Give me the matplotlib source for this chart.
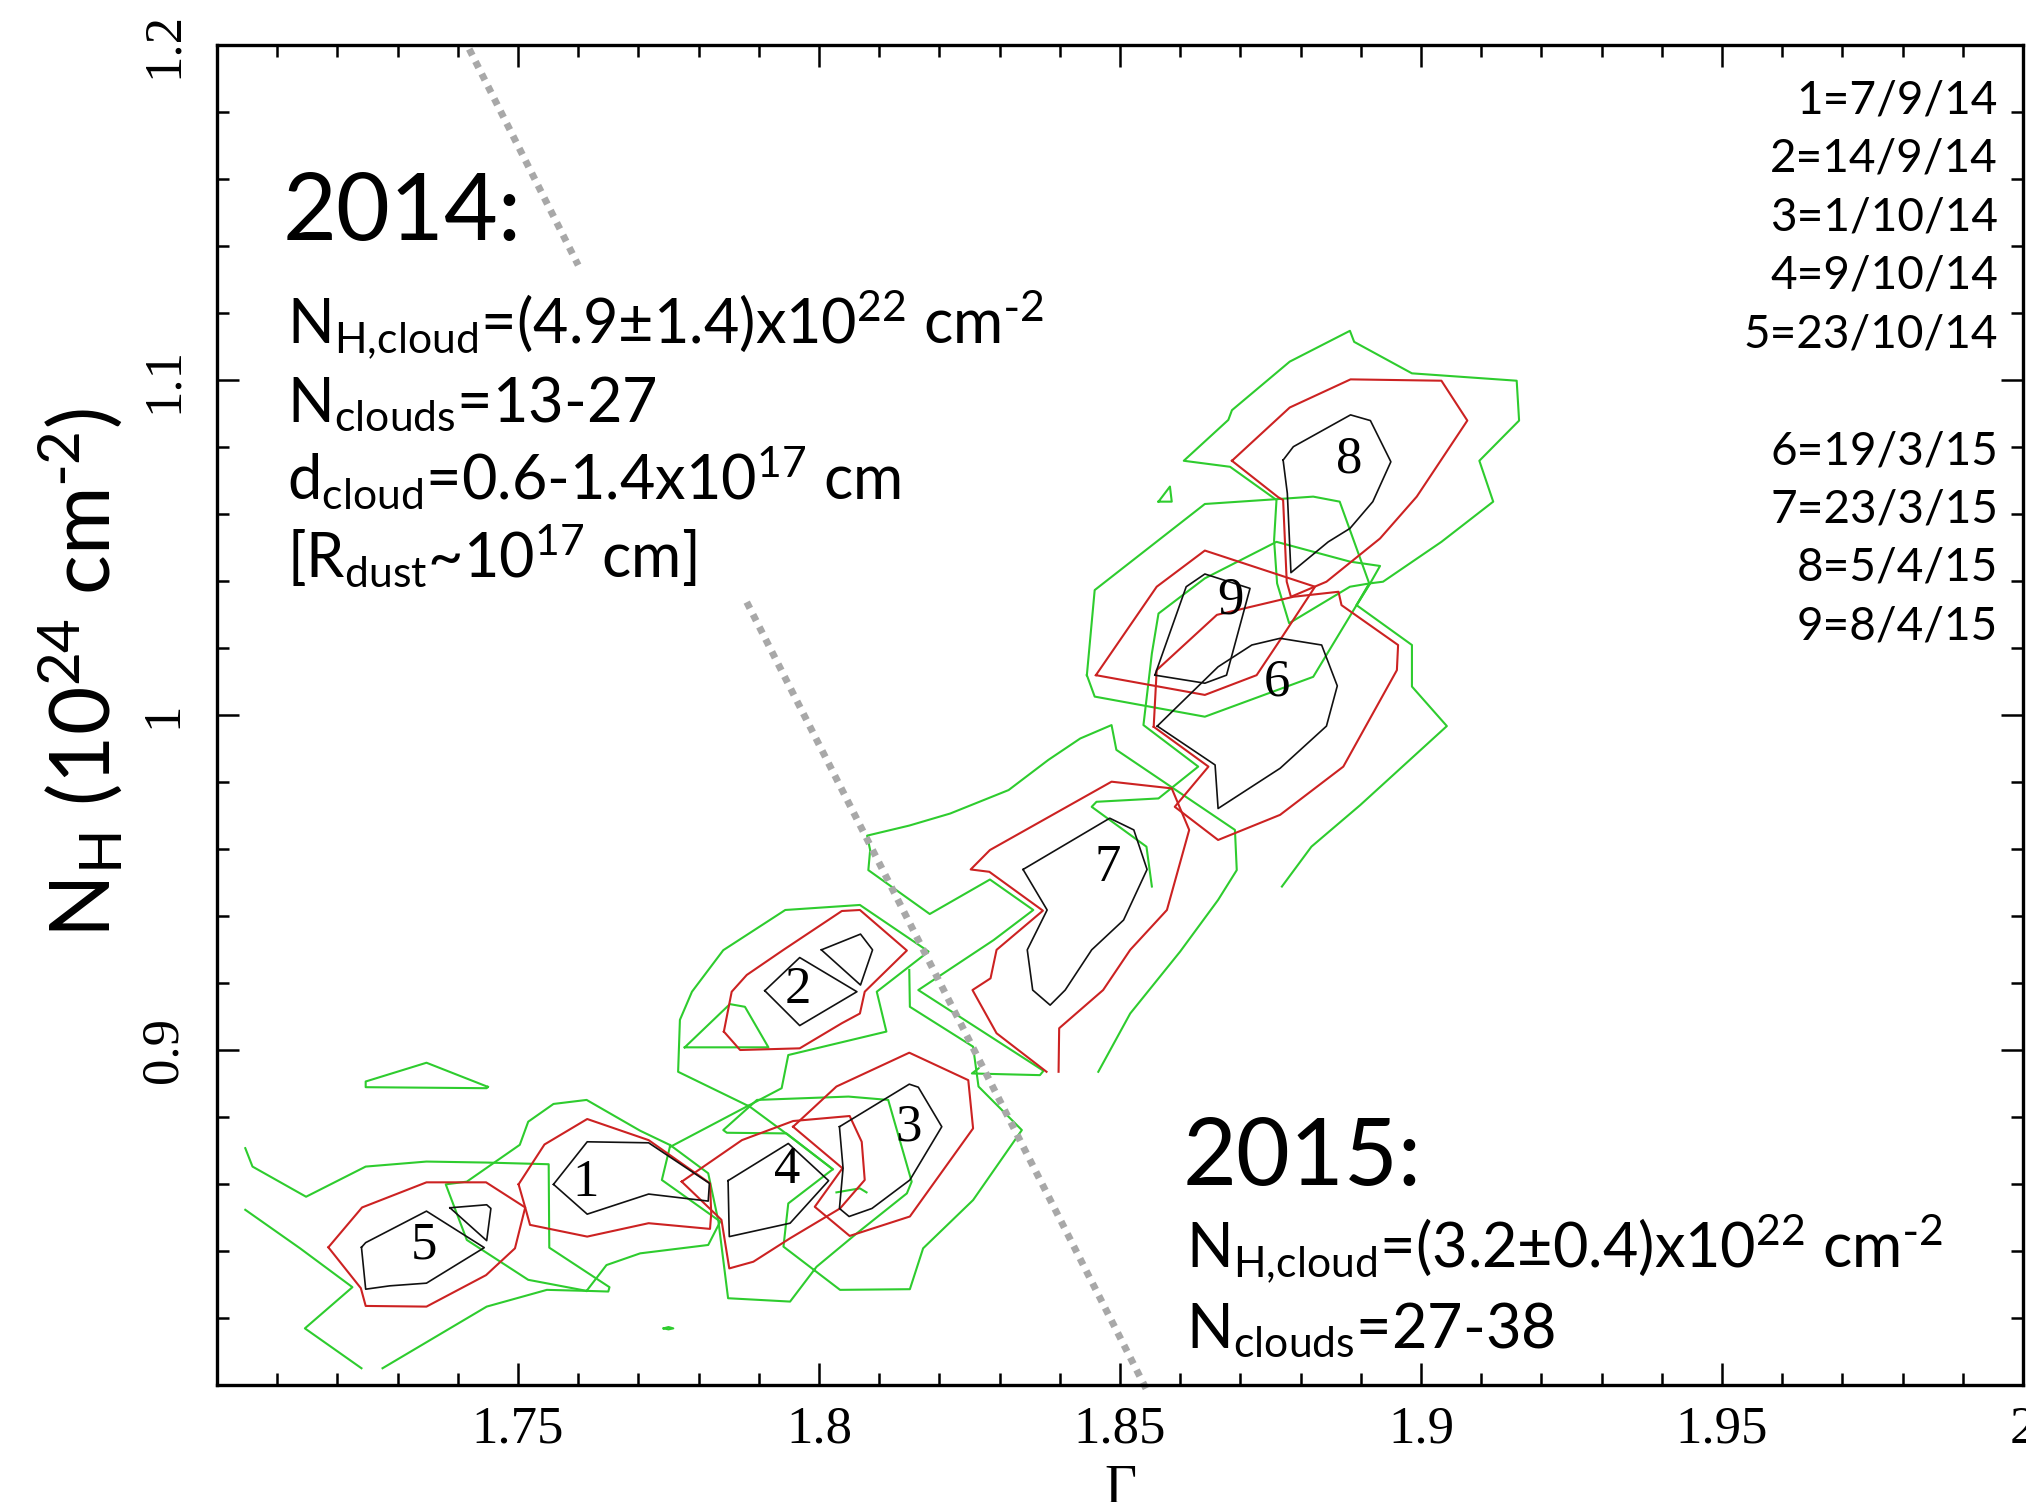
"""Gamma vs N_H confidence contours for the 2014 / 2015 observations."""

import matplotlib

matplotlib.use("Agg")
from matplotlib import pyplot as plt
from matplotlib.ticker import MultipleLocator

SANS = "Lato"
SERIF = "Liberation Serif"
GREEN = "#2ecc2e"
RED = "#cc2222"
BLACK = "#111111"
GREY = "#a8a8a8"

# ---- contour data (Gamma, N_H) ----
C5_BLACK = [(1.7240, 0.8411), (1.7247, 0.8286), (1.7287, 0.8296), (1.7348, 0.8304), (1.7444, 0.8410),
            (1.7348, 0.8519), (1.7247, 0.8425), (1.7240, 0.8411)]
C5_BLACK_B = [(1.7387, 0.8529), (1.7448, 0.8538), (1.7455, 0.8527), (1.7448, 0.8431), (1.7387, 0.8529)]
C5_RED = [(1.7185, 0.8411), (1.7241, 0.8530), (1.7348, 0.8605), (1.7447, 0.8605), (1.7512, 0.8530),
          (1.7495, 0.8408), (1.7447, 0.8328), (1.7348, 0.8234), (1.7247, 0.8236), (1.7239, 0.8289),
          (1.7185, 0.8411)]
C5_GREEN_A = [(1.7047, 0.8523), (1.7138, 0.8408), (1.7225, 0.8292), (1.7146, 0.8169), (1.7240, 0.8050)]
C5_GREEN_B = [(1.7275, 0.8050), (1.7448, 0.8234), (1.7548, 0.8284), (1.7614, 0.8281), (1.7650, 0.8279),
              (1.7652, 0.8292), (1.7552, 0.8410), (1.7551, 0.8659), (1.7448, 0.8664), (1.7348, 0.8667),
              (1.7247, 0.8652), (1.7148, 0.8562), (1.7059, 0.8652), (1.7047, 0.8707)]
C5_GREEN_C = [(1.7450, 0.8890), (1.7348, 0.8962), (1.7247, 0.8906), (1.7247, 0.8889), (1.7448, 0.8886),
              (1.7450, 0.8890)]
C5_GREEN_D = [(1.7742, 0.8169), (1.7750, 0.8173), (1.7758, 0.8169), (1.7750, 0.8166), (1.7742, 0.8169)]

C1_BLACK = [(1.7559, 0.8599), (1.7615, 0.8726), (1.7717, 0.8723), (1.7818, 0.8602), (1.7816, 0.8549),
            (1.7717, 0.8570), (1.7615, 0.8510), (1.7559, 0.8599)]
C1_RED = [(1.7501, 0.8599), (1.7544, 0.8718), (1.7615, 0.8794), (1.7717, 0.8731), (1.7819, 0.8602),
          (1.7821, 0.8512), (1.7819, 0.8466), (1.7717, 0.8483), (1.7615, 0.8443), (1.7520, 0.8478),
          (1.7512, 0.8530), (1.7501, 0.8599)]
C1_GREEN = [(1.7614, 0.8281), (1.7517, 0.8314), (1.7415, 0.8433), (1.7380, 0.8599), (1.7415, 0.8607),
            (1.7503, 0.8717), (1.7517, 0.8786), (1.7559, 0.8839), (1.7614, 0.8851), (1.7703, 0.8759),
            (1.7753, 0.8716), (1.7739, 0.8612), (1.7836, 0.8488), (1.7816, 0.8418), (1.7703, 0.8393),
            (1.7647, 0.8358), (1.7614, 0.8281)]

C4_BLACK = [(1.7849, 0.8610), (1.7949, 0.8721), (1.8016, 0.8610), (1.7952, 0.8483), (1.7851, 0.8443),
            (1.7849, 0.8610)]
C4_RED = [(1.7772, 0.8607), (1.7872, 0.8731), (1.7957, 0.8788), (1.8051, 0.8803), (1.8071, 0.8726),
          (1.8076, 0.8612), (1.8035, 0.8527), (1.7952, 0.8438), (1.7891, 0.8368), (1.7851, 0.8348),
          (1.7838, 0.8493), (1.7772, 0.8607)]
C4_GREEN = [(1.7753, 0.8716), (1.7816, 0.8632), (1.7833, 0.8488), (1.7849, 0.8259), (1.7952, 0.8249),
            (1.7996, 0.8353), (1.8063, 0.8453), (1.8146, 0.8572), (1.8154, 0.8607), (1.8115, 0.8851),
            (1.8049, 0.8861), (1.7897, 0.8851), (1.7841, 0.8761), (1.7847, 0.8753), (1.7946, 0.8751),
            (1.8023, 0.8644), (1.7949, 0.8542), (1.7941, 0.8413), (1.8035, 0.8284), (1.8151, 0.8286),
            (1.8173, 0.8408), (1.8256, 0.8552), (1.8337, 0.8761), (1.8265, 0.8891), (1.8256, 0.9010),
            (1.8151, 0.9129), (1.8150, 0.9239)]

C3_BLACK = [(1.8034, 0.8771), (1.8150, 0.8898), (1.8165, 0.8889), (1.8204, 0.8771), (1.8151, 0.8612),
            (1.8088, 0.8527), (1.8050, 0.8503), (1.8034, 0.8527), (1.8040, 0.8647), (1.8034, 0.8771)]
C3_RED = [(1.7957, 0.8771), (1.8029, 0.8891), (1.8150, 0.8992), (1.8248, 0.8910), (1.8256, 0.8766),
          (1.8151, 0.8503), (1.8051, 0.8445), (1.7993, 0.8532), (1.8039, 0.8647), (1.7957, 0.8771)]
C3_GREEN = [(1.8265, 0.8945), (1.8254, 0.8930), (1.8367, 0.8925), (1.8373, 0.8938), (1.8165, 0.9179),
            (1.8290, 0.9328), (1.8356, 0.9418), (1.8284, 0.9509), (1.8184, 0.9406), (1.8082, 0.9537),
            (1.8085, 0.9597), (1.8080, 0.9640), (1.8150, 0.9670), (1.8218, 0.9706), (1.8315, 0.9776),
            (1.8381, 0.9866), (1.8434, 0.9930), (1.8486, 0.9970), (1.8494, 0.9896), (1.8691, 0.9657),
            (1.8694, 0.9537), (1.8663, 0.9448), (1.8600, 0.9294), (1.8517, 0.9109), (1.8464, 0.8935)]
C3_GREEN_B = [(1.8029, 0.8575), (1.8068, 0.8587), (1.8079, 0.8575)]

C2_BLACK = [(1.7910, 0.9177), (1.7968, 0.9276), (1.8063, 0.9174), (1.7968, 0.9073), (1.7910, 0.9177)]
C2_BLACK_B = [(1.8004, 0.9299), (1.8069, 0.9346), (1.8089, 0.9299), (1.8069, 0.9194), (1.8004, 0.9299)]
C2_RED = [(1.7842, 0.9055), (1.7855, 0.9174), (1.7880, 0.9224), (1.7941, 0.9299), (1.8038, 0.9415),
          (1.8068, 0.9418), (1.8146, 0.9297), (1.8076, 0.9174), (1.8068, 0.9109), (1.8038, 0.9080),
          (1.7968, 0.9005), (1.7869, 0.9000), (1.7842, 0.9055)]
C2_GREEN = [(1.8023, 0.8644), (1.7949, 0.8746), (1.7885, 0.8831), (1.7766, 0.8935), (1.7769, 0.9090),
            (1.7789, 0.9174), (1.7841, 0.9298), (1.7944, 0.9418), (1.8068, 0.9433), (1.8182, 0.9294),
            (1.8096, 0.9174), (1.8112, 0.9055), (1.7949, 0.8985), (1.7938, 0.8886), (1.7885, 0.8836),
            (1.7753, 0.8711)]
C2_GREEN_B = [(1.7777, 0.9008), (1.7852, 0.9137), (1.7877, 0.9129), (1.7916, 0.9008), (1.7777, 0.9008)]

C7_BLACK = [(1.8339, 0.9539), (1.8483, 0.9692), (1.8523, 0.9657), (1.8545, 0.9539), (1.8506, 0.9388),
            (1.8453, 0.9299), (1.8409, 0.9179), (1.8384, 0.9134), (1.8355, 0.9179), (1.8346, 0.9299),
            (1.8379, 0.9418), (1.8339, 0.9539)]
C7_RED = [(1.8398, 0.8935), (1.8399, 0.9065), (1.8472, 0.9179), (1.8517, 0.9299), (1.8578, 0.9418),
          (1.8615, 0.9657), (1.8586, 0.9781), (1.8486, 0.9801), (1.8284, 0.9597), (1.8252, 0.9539),
          (1.8283, 0.9532), (1.8372, 0.9416), (1.8295, 0.9299), (1.8285, 0.9214), (1.8255, 0.9179),
          (1.8295, 0.9050), (1.8378, 0.8935)]
C7_GREEN = [(1.8893, 1.0328), (1.8914, 1.0388), (1.8932, 1.0445), (1.8882, 1.0458), (1.8760, 1.0517),
            (1.8641, 1.0408), (1.8564, 1.0303), (1.8553, 1.0184), (1.8539, 0.9970), (1.8630, 0.9846),
            (1.8564, 0.9751), (1.8461, 0.9741), (1.8453, 0.9726), (1.8544, 0.9607), (1.8553, 0.9488)]

C9_BLACK = [(1.8558, 1.0119), (1.8610, 1.0383), (1.8641, 1.0421), (1.8716, 1.0378), (1.8677, 1.0119),
            (1.8641, 1.0095), (1.8558, 1.0119)]
C9_RED = [(1.8460, 1.0119), (1.8561, 1.0383), (1.8641, 1.0491), (1.8824, 1.0383), (1.8766, 1.0224),
          (1.8727, 1.0119), (1.8641, 1.0060), (1.8460, 1.0119)]
C9_GREEN = [(1.8445, 1.0119), (1.8458, 1.0373), (1.8641, 1.0630), (1.8757, 1.0644), (1.8821, 1.0652),
            (1.8865, 1.0637), (1.8914, 1.0393), (1.8893, 1.0328), (1.8821, 1.0114), (1.8641, 0.9995),
            (1.8458, 1.0055), (1.8445, 1.0119)]

C6_BLACK = [(1.8562, 0.9967), (1.8663, 1.0144), (1.8719, 1.0209), (1.8766, 1.0229), (1.8835, 1.0209),
            (1.8861, 1.0087), (1.8843, 0.9967), (1.8766, 0.9841), (1.8663, 0.9721), (1.8658, 0.9851),
            (1.8562, 0.9967)]
C6_RED = [(1.8556, 0.9965), (1.8561, 1.0134), (1.8661, 1.0299), (1.8788, 1.0353), (1.8863, 1.0368),
          (1.8868, 1.0328), (1.8962, 1.0209), (1.8960, 1.0134), (1.8871, 0.9846), (1.8766, 0.9702),
          (1.8663, 0.9627), (1.8591, 0.9726), (1.8647, 0.9846), (1.8556, 0.9965)]

C8_BLACK = [(1.8771, 1.0761), (1.8788, 1.0801), (1.8883, 1.0896), (1.8916, 1.0879), (1.8950, 1.0756),
            (1.8920, 1.0637), (1.8882, 1.0557), (1.8846, 1.0517), (1.8784, 1.0425), (1.8778, 1.0662),
            (1.8771, 1.0761)]
C8_RED = [(1.8686, 1.0759), (1.8782, 1.0918), (1.8883, 1.1002), (1.9034, 1.0998), (1.9077, 1.0879),
          (1.8993, 1.0652), (1.8932, 1.0527), (1.8843, 1.0398), (1.8784, 1.0353), (1.8777, 1.0398),
          (1.8771, 1.0642), (1.8763, 1.0650), (1.8686, 1.0759)]
C86_GREEN = [(1.8769, 0.9488), (1.8818, 0.9607), (1.8899, 0.9731), (1.9043, 0.9967), (1.8985, 1.0085),
             (1.8985, 1.0209), (1.8893, 1.0328), (1.8915, 1.0393), (1.8937, 1.0398), (1.9034, 1.0517),
             (1.9120, 1.0637), (1.9097, 1.0759), (1.9163, 1.0879), (1.9159, 1.0998), (1.8985, 1.1020),
             (1.8889, 1.1114), (1.8882, 1.1147), (1.8782, 1.1055), (1.8686, 1.0910), (1.8680, 1.0881),
             (1.8606, 1.0759), (1.8683, 1.0741), (1.8760, 1.0642), (1.8756, 1.0522), (1.8761, 1.0393),
             (1.8781, 1.0274), (1.8882, 1.0383), (1.8915, 1.0393)]
C8_GREEN_B = [(1.8564, 1.0637), (1.8583, 1.0682), (1.8586, 1.0637), (1.8564, 1.0637)]

GREEN_LINES = [C5_GREEN_A, C5_GREEN_B, C5_GREEN_C, C5_GREEN_D, C1_GREEN, C4_GREEN, C3_GREEN,
               C3_GREEN_B, C2_GREEN, C2_GREEN_B, C7_GREEN, C9_GREEN, C86_GREEN, C8_GREEN_B]
RED_LINES = [C5_RED, C1_RED, C4_RED, C3_RED, C2_RED, C7_RED, C9_RED, C6_RED, C8_RED]
BLACK_LINES = [C5_BLACK, C5_BLACK_B, C1_BLACK, C4_BLACK, C3_BLACK, C2_BLACK, C2_BLACK_B, C7_BLACK,
               C9_BLACK, C6_BLACK, C8_BLACK]

# observation number labels
OBS_IDS = ["1", "2", "3", "4", "5", "6", "7", "8", "9"]
OBS_GAMMA = [1.7613, 1.7965, 1.8148, 1.7947, 1.7344, 1.8761, 1.8480, 1.8881, 1.8683]
OBS_NH = [0.8603, 0.9179, 0.8770, 0.8642, 0.8415, 1.0096, 0.9543, 1.0764, 1.0343]

# dates (right-hand key)
DATES = ["1=7/9/14", "2=14/9/14", "3=1/10/14", "4=9/10/14", "5=23/10/14", "",
         "6=19/3/15", "7=23/3/15", "8=5/4/15", "9=8/4/15"]

# dividing line between the two epochs
DIV_A_GAMMA = [1.7419, 1.7600]
DIV_A_NH = [1.1988, 1.1343]
DIV_B_GAMMA = [1.7880, 1.8547]
DIV_B_NH = [1.0337, 0.7976]

TEXT_2014 = [r"N$_{H{,}cloud}$=(4.9±1.4)x10$^{22}$ cm$^{\text{-}2}$",
             r"N$_{clouds}$=13-27",
             r"d$_{cloud}$=0.6-1.4x10$^{17}$ cm",
             r"[R$_{dust}$~10$^{17}$ cm]"]
TEXT_2015 = [r"N$_{H{,}cloud}$=(3.2±0.4)x10$^{22}$ cm$^{\text{-}2}$",
             r"N$_{clouds}$=27-38"]


def _main() -> None:
    plt.rcParams["mathtext.default"] = "regular"
    plt.rcParams["font.family"] = [SANS, "DejaVu Sans"]

    fig = plt.figure(figsize=(20.26, 15.02), dpi=100)
    ax = fig.add_axes([0.1071, 0.0779, 0.8914, 0.8921])

    for line in GREEN_LINES:
        xs, ys = zip(*line)
        ax.plot(xs, ys, color=GREEN, lw=1.5)
    for line in RED_LINES:
        xs, ys = zip(*line)
        ax.plot(xs, ys, color=RED, lw=1.5)
    for line in BLACK_LINES:
        xs, ys = zip(*line)
        ax.plot(xs, ys, color=BLACK, lw=1.2)

    for lab, gx, ny in zip(OBS_IDS, OBS_GAMMA, OBS_NH):
        ax.text(gx, ny, lab, family=SERIF, fontsize=38, ha="center", va="center")

    dots = dict(color=GREY, lw=5.0, dashes=(1.0, 1.0), clip_on=False)
    ax.plot(DIV_A_GAMMA, DIV_A_NH, **dots)
    ax.plot(DIV_B_GAMMA, DIV_B_NH, **dots)

    # epoch summaries
    ax.text(0.0365, 0.8545, "2014:", transform=ax.transAxes, fontsize=67, va="baseline")
    for i, txt in enumerate(TEXT_2014):
        ax.text(0.0388, 0.7769 - i * 0.0580, txt, transform=ax.transAxes, fontsize=44,
                va="baseline")
    ax.text(0.5349, 0.1493, "2015:", transform=ax.transAxes, fontsize=67, va="baseline")
    for i, txt in enumerate(TEXT_2015):
        ax.text(0.5366, 0.0873 - i * 0.0589, txt, transform=ax.transAxes, fontsize=44,
                va="baseline")

    for i, txt in enumerate(DATES):
        ax.text(0.9862, 0.9489 - i * 0.0436, txt, transform=ax.transAxes, fontsize=33,
                ha="right", va="baseline")

    ax.set_xlim(1.70, 2.00)
    ax.set_ylim(0.80, 1.20)
    ax.set_xticks([1.75, 1.80, 1.85, 1.90, 1.95, 2.00])
    ax.set_xticklabels(["1.75", "1.8", "1.85", "1.9", "1.95", "2"])
    ax.set_yticks([0.9, 1.0, 1.1, 1.2])
    ax.set_yticklabels(["0.9", "1", "1.1", "1.2"])
    ax.xaxis.set_minor_locator(MultipleLocator(0.01))
    ax.yaxis.set_minor_locator(MultipleLocator(0.02))
    ax.tick_params(which="both", direction="in", top=True, right=True, width=1.8,
                   labelsize=38, labelfontfamily=SERIF)
    ax.tick_params(which="major", length=16)
    ax.tick_params(which="minor", length=8.5)
    ax.tick_params(axis="x", pad=15)
    ax.tick_params(axis="y", pad=21, labelrotation=90)
    for lab in ax.get_yticklabels():
        lab.set_va("center")
    for sp in ax.spines.values():
        sp.set_linewidth(2.4)

    fig.text(0.5528, 0.0253, "Γ", family=SERIF, fontsize=40, ha="center", va="top")
    fig.text(0.040, 0.552, r"N$_H$ (10$^{24}$ cm$^{\text{-}2}$)", fontsize=60, rotation=90,
             ha="center", va="center")

    fig.savefig("out.png", dpi=100)


if __name__ == "__main__":
    _main()
